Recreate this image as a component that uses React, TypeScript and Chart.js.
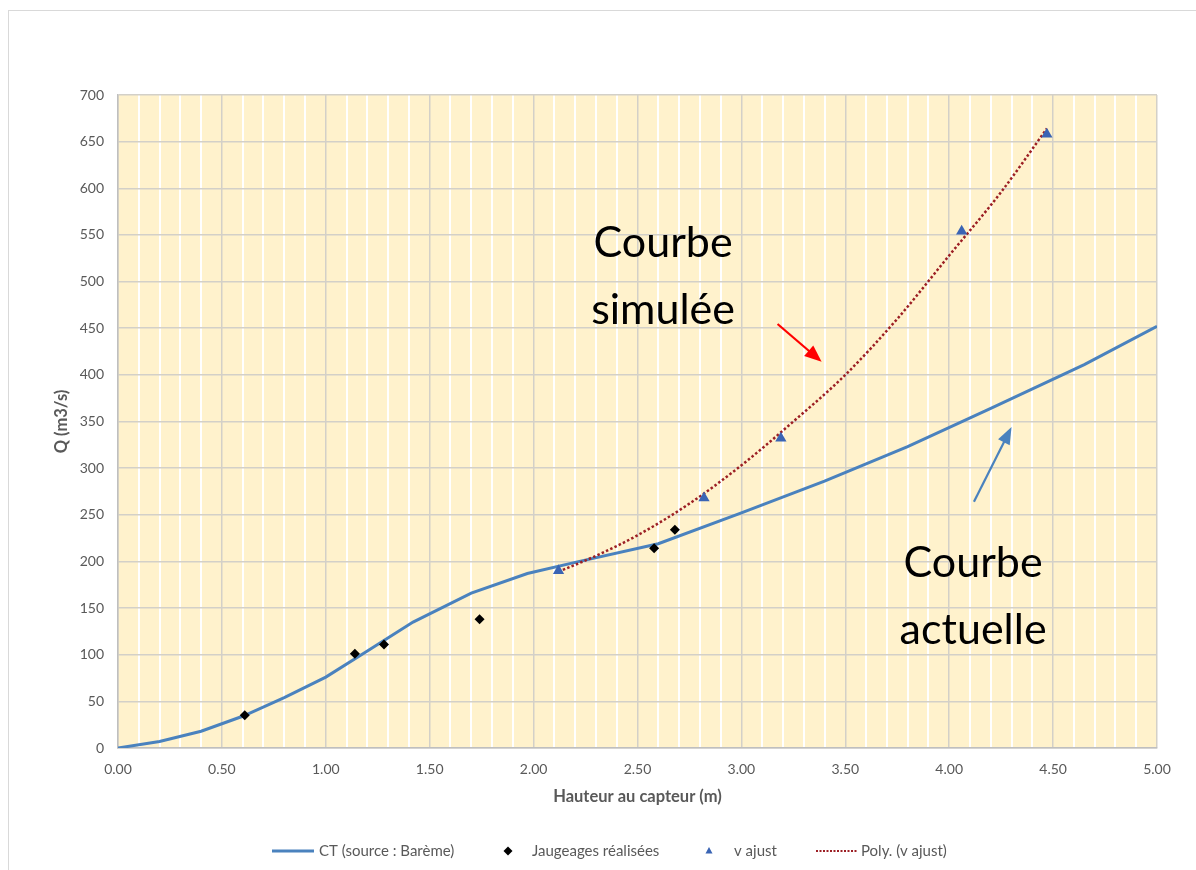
import React, { useEffect, useRef } from 'react';
import { Chart, registerables } from 'chart.js';

Chart.register(...registerables);

// ---- data ----
const CT_H = [0, 0.2, 0.4, 0.6, 0.8, 1.0, 1.2, 1.42, 1.7, 1.97, 2.2, 2.6, 3.0, 3.4, 3.8, 4.2, 4.65, 5.0];
const CT_Q = [0, 7, 18, 34, 54, 76, 104, 135, 166, 187, 199, 219, 252, 286, 323, 364, 411, 452];

const J_H = [0.61, 1.14, 1.28, 1.74, 2.58, 2.68];
const J_Q = [35, 101, 111, 138, 214, 234];

const V_H = [2.12, 2.82, 3.19, 4.06, 4.47];
const V_Q = [190, 268, 332, 554, 658];

const P_H = [2.12, 2.3, 2.5, 2.75, 3.0, 3.25, 3.5, 3.75, 4.0, 4.25, 4.47];
const P_Q = [189, 206, 228, 262, 303, 350, 400, 460, 528, 596, 664];

const LEGEND_LABELS = ['CT (source : Barème)', 'Jaugeages réalisées', 'v ajust', 'Poly. (v ajust)'];
const X_TITLE = 'Hauteur au capteur (m)';
const Y_TITLE = 'Q (m3/s)';

// annotation anchors in data coordinates
const SIM_TEXT = { x: 2.623, lines: ['Courbe', 'simulée'], y: [526, 454] };
const ACT_TEXT = { x: 4.115, lines: ['Courbe', 'actuelle'], y: [183, 112] };
const RED_ARROW = { x1: 3.174, y1: 454.5, x2: 3.386, y2: 414 };
const BLUE_ARROW = { x1: 4.119, y1: 264, x2: 4.3, y2: 344 };

const BLUE = '#4A82BE';
const TRI = '#3A64B4';
const RED = '#9C1F24';
const FONT = 'Lato, "Open Sans", sans-serif';

const toXY = (xs: number[], ys: number[]) => xs.map((x, i) => ({ x, y: ys[i] }));
const isMajor = (v: number) => Math.abs(v * 2 - Math.round(v * 2)) < 1e-6;

function drawArrow(ctx: CanvasRenderingContext2D, x1: number, y1: number, x2: number, y2: number, color: string, len: number, half: number) {
  const ang = Math.atan2(y2 - y1, x2 - x1);
  const bx = x2 - Math.cos(ang) * len;
  const by = y2 - Math.sin(ang) * len;
  ctx.save();
  ctx.strokeStyle = color;
  ctx.fillStyle = color;
  ctx.lineWidth = 2.2;
  ctx.beginPath();
  ctx.moveTo(x1, y1);
  ctx.lineTo(bx + Math.cos(ang) * 2, by + Math.sin(ang) * 2);
  ctx.stroke();
  ctx.beginPath();
  ctx.moveTo(x2, y2);
  ctx.lineTo(bx + Math.cos(ang + Math.PI / 2) * half, by + Math.sin(ang + Math.PI / 2) * half);
  ctx.lineTo(bx - Math.cos(ang + Math.PI / 2) * half, by - Math.sin(ang + Math.PI / 2) * half);
  ctx.closePath();
  ctx.fill();
  ctx.restore();
}

const decor = {
  id: 'decor',
  beforeDraw(chart: any) {
    const { ctx, chartArea: a } = chart;
    ctx.save();
    ctx.fillStyle = '#FFF2CC';
    ctx.fillRect(a.left, a.top, a.right - a.left, a.bottom - a.top);
    ctx.restore();
  },
  afterDraw(chart: any) {
    const { ctx } = chart;
    const sx = chart.scales.x;
    const sy = chart.scales.y;
    // annotation texts
    ctx.save();
    ctx.fillStyle = '#000';
    ctx.font = `43px ${FONT}`;
    ctx.textAlign = 'center';
    ctx.textBaseline = 'alphabetic';
    [SIM_TEXT, ACT_TEXT].forEach((t) => {
      t.lines.forEach((l, i) => ctx.fillText(l, sx.getPixelForValue(t.x), sy.getPixelForValue(t.y[i])));
    });
    ctx.restore();
    drawArrow(ctx, sx.getPixelForValue(RED_ARROW.x1), sy.getPixelForValue(RED_ARROW.y1),
      sx.getPixelForValue(RED_ARROW.x2), sy.getPixelForValue(RED_ARROW.y2), '#FF0000', 17, 7);
    drawArrow(ctx, sx.getPixelForValue(BLUE_ARROW.x1), sy.getPixelForValue(BLUE_ARROW.y1),
      sx.getPixelForValue(BLUE_ARROW.x2), sy.getPixelForValue(BLUE_ARROW.y2), BLUE, 17, 6.5);

    // legend
    const ly = 851;
    ctx.save();
    ctx.font = `15px ${FONT}`;
    ctx.fillStyle = '#595959';
    ctx.textBaseline = 'middle';
    ctx.textAlign = 'left';
    // CT line
    ctx.strokeStyle = BLUE;
    ctx.lineWidth = 3;
    ctx.beginPath(); ctx.moveTo(272, ly); ctx.lineTo(314, ly); ctx.stroke();
    ctx.fillText(LEGEND_LABELS[0], 319, ly);
    // diamond
    ctx.fillStyle = '#000';
    ctx.beginPath();
    ctx.moveTo(508, ly - 4.5); ctx.lineTo(512.5, ly); ctx.lineTo(508, ly + 4.5); ctx.lineTo(503.5, ly); ctx.closePath();
    ctx.fill();
    ctx.fillStyle = '#595959';
    ctx.fillText(LEGEND_LABELS[1], 532, ly);
    // triangle
    ctx.fillStyle = TRI;
    ctx.beginPath();
    ctx.moveTo(709, ly - 4); ctx.lineTo(712.5, ly + 2.5); ctx.lineTo(705.5, ly + 2.5); ctx.closePath();
    ctx.fill();
    ctx.fillStyle = '#595959';
    ctx.fillText(LEGEND_LABELS[2], 734, ly);
    // dotted
    ctx.strokeStyle = RED;
    ctx.lineWidth = 2;
    ctx.setLineDash([2, 1.5]);
    ctx.beginPath(); ctx.moveTo(816, ly); ctx.lineTo(857, ly); ctx.stroke();
    ctx.setLineDash([]);
    ctx.fillText(LEGEND_LABELS[3], 861, ly);
    ctx.restore();
  },
};

export default function App() {
  const ref = useRef<HTMLCanvasElement | null>(null);
  useEffect(() => {
    if (!ref.current) return;
    const chart = new Chart(ref.current, {
      type: 'scatter',
      data: {
        datasets: [
          {
            label: LEGEND_LABELS[0],
            type: 'line',
            data: toXY(CT_H, CT_Q),
            borderColor: BLUE,
            borderWidth: 3,
            pointRadius: 0,
            tension: 0,
            fill: false,
            order: 3,
          },
          {
            label: LEGEND_LABELS[3],
            type: 'line',
            data: toXY(P_H, P_Q),
            borderColor: RED,
            borderWidth: 2.5,
            borderDash: [2.5, 2.2],
            pointRadius: 0,
            cubicInterpolationMode: 'monotone',
            fill: false,
            order: 2,
          },
          {
            label: LEGEND_LABELS[1],
            data: toXY(J_H, J_Q),
            pointStyle: 'rectRot',
            pointRadius: 5,
            backgroundColor: '#000',
            borderColor: '#000',
            borderWidth: 0,
            order: 1,
          },
          {
            label: LEGEND_LABELS[2],
            data: toXY(V_H, V_Q),
            pointStyle: 'triangle',
            pointRadius: 6.5,
            backgroundColor: TRI,
            borderColor: TRI,
            borderWidth: 0,
            order: 0,
          },
        ],
      } as any,
      options: {
        animation: false,
        responsive: false,
        events: [],
        layout: { padding: { left: 0, top: 95, right: 39, bottom: 0 } },
        plugins: { legend: { display: false }, tooltip: { enabled: false } },
        scales: {
          x: {
            type: 'linear',
            min: 0,
            max: 5,
            afterFit: (s: any) => { s.height = 122; },
            ticks: {
              stepSize: 0.1,
              autoSkip: false,
              maxRotation: 0,
              padding: 13,
              color: '#595959',
              font: { family: FONT, size: 14 },
              callback: (v: any) => (isMajor(Number(v)) ? Number(v).toFixed(2) : ''),
            },
            grid: {
              drawTicks: false,
              color: (c: any) => (isMajor(c.tick ? c.tick.value : 0) ? '#D3D0C8' : '#FFFFFF'),
              lineWidth: (c: any) => (isMajor(c.tick ? c.tick.value : 0) ? 1.5 : 2),
            },
            border: { display: true, color: '#BFBFBF', width: 1.5 },
            title: {
              display: true,
              text: X_TITLE,
              color: '#595959',
              font: { family: FONT, size: 16.5, weight: 'bold' },
              padding: { top: 0, bottom: 63 },
            },
          },
          y: {
            type: 'linear',
            min: 0,
            max: 700,
            afterFit: (s: any) => { s.width = 118; },
            ticks: {
              stepSize: 50,
              padding: 14,
              color: '#595959',
              font: { family: FONT, size: 14 },
            },
            grid: { drawTicks: false, color: '#D3D0C8', lineWidth: 1.5 },
            border: { display: true, color: '#BFBFBF', width: 1.5 },
            title: {
              display: true,
              text: Y_TITLE,
              color: '#595959',
              font: { family: FONT, size: 16.5, weight: 'bold' },
              padding: { top: 52, bottom: 0 },
            },
          },
        },
      } as any,
      plugins: [decor],
    });
    return () => chart.destroy();
  }, []);

  return (
    <div style={{ position: 'fixed', left: 0, top: 0, width: 1196, height: 870, background: '#fff', overflow: 'hidden' }}>
      <div style={{ position: 'absolute', left: 8, top: 10, width: 1200, height: 900, border: '1px solid #D9D9D9' }} />
      <canvas ref={ref} width={1196} height={870} style={{ position: 'absolute', left: 0, top: 0, width: 1196, height: 870 }} />
    </div>
  );
}
